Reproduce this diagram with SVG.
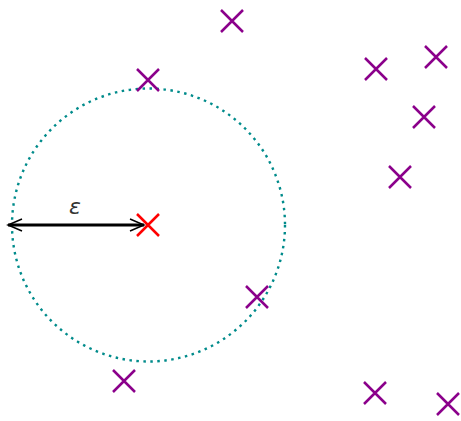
<svg xmlns="http://www.w3.org/2000/svg" width="461" height="421" viewBox="0 0 461 421">
<defs>
<style>
.pt{stroke:#8b008b;stroke-width:2.5;fill:none}
.ctr{stroke:#ff0000;stroke-width:2.5;fill:none}
.nb{stroke:#008b8b;stroke-width:2.4;fill:none;stroke-dasharray:2.5 4.5}
.arr{stroke:#000;stroke-width:3;fill:none}
.ah{stroke:#000;stroke-width:1.5;fill:none}
</style>
<path id="x" d="M-11,-11L11,11M-11,11L11,-11"/>
</defs>
<rect width="461" height="421" fill="#fff"/>
<g id="neighborhood"><circle class="nb" cx="148.5" cy="225" r="136.5"/></g>
<g id="connectors">
<line class="arr" x1="8" y1="225" x2="144" y2="225"/>
<path class="ah" d="M22,219L8,225L22,231"/>
<path class="ah" d="M130,219L144,225L130,231"/>
</g>
<text id="eps" x="75" y="214" font-family="DejaVu Sans, sans-serif" font-style="italic" font-size="22" text-anchor="middle" fill="#333">ε</text>
<g id="center"><use href="#x" class="ctr" transform="translate(148,225)"/></g>
<g id="p1"><use href="#x" class="pt" transform="translate(232,21)"/></g>
<g id="p2"><use href="#x" class="pt" transform="translate(148,80)"/></g>
<g id="p3"><use href="#x" class="pt" transform="translate(376,69)"/></g>
<g id="p4"><use href="#x" class="pt" transform="translate(436,57)"/></g>
<g id="p5"><use href="#x" class="pt" transform="translate(424,117)"/></g>
<g id="p6"><use href="#x" class="pt" transform="translate(400,177)"/></g>
<g id="p7"><use href="#x" class="pt" transform="translate(257,297)"/></g>
<g id="p8"><use href="#x" class="pt" transform="translate(124,381)"/></g>
<g id="p9"><use href="#x" class="pt" transform="translate(375,393)"/></g>
<g id="p10"><use href="#x" class="pt" transform="translate(448,404)"/></g>
</svg>
